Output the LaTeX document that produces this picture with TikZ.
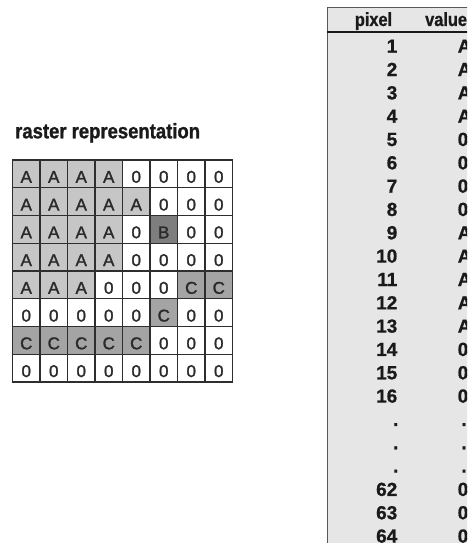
\documentclass[tikz,border=0pt]{standalone}
\usepackage{fontspec}
\setmainfont{Liberation Sans}[BoldFont={Liberation Sans Bold}]
\newfontfamily\titlefont{Liberation Sans Bold}[FakeStretch=0.88, FakeBold=1.2]
\newfontfamily\hdrfont{Liberation Sans Bold}[FakeStretch=0.86, FakeBold=0.8]
\newfontfamily\numfont{Liberation Sans Bold}[FakeBold=0.8]
\newfontfamily\cellfont{Liberation Sans}[FakeBold=1.6]
\definecolor{cellA}{HTML}{C6C6C6}
\definecolor{cellB}{HTML}{7E7E7E}
\definecolor{cellC}{HTML}{A4A4A4}
\definecolor{cell0}{HTML}{FFFFFF}
\definecolor{tablebg}{HTML}{E6E6E6}
\definecolor{ink}{HTML}{1A1A1A}
\definecolor{gridink}{HTML}{2E2E2E}
\definecolor{cellink}{HTML}{2A2A2A}
\begin{document}
\begin{tikzpicture}[x=1pt,y=-1pt,
  title/.style={inner sep=0pt, anchor=base west, text=ink, font=\titlefont\fontsize{21}{21}\selectfont},
  hdr/.style={inner sep=0pt, text=ink, font=\hdrfont\fontsize{19}{19}\selectfont},
  num/.style={inner sep=0pt, anchor=base east, text=ink, font=\numfont\fontsize{19}{19}\selectfont},
  val/.style={inner sep=0pt, anchor=base west, text=ink, font=\numfont\fontsize{19}{19}\selectfont},
  dotmark/.style={inner sep=0pt, anchor=base, text=ink, font=\numfont\fontsize{19}{19}\selectfont},
  celltext/.style={inner sep=0pt, anchor=base, text=cellink, font=\cellfont\fontsize{17}{17}\selectfont},
  gridline/.style={draw=gridink, line width=1.3pt},
  gridframe/.style={draw=gridink, line width=1.8pt},
  tableline/.style={draw=gridink!80, line width=1pt},
  headline/.style={draw=ink, line width=1.6pt}
]
\useasboundingbox (0,0) rectangle (467,543);
\clip (0,0) rectangle (467,543);

% title
\node[title] (title) at (15,138.3) {raster representation};

% raster grid
\foreach \rowvals [count=\r] in {{A,A,A,A,0,0,0,0},{A,A,A,A,A,0,0,0},{A,A,A,A,0,B,0,0},{A,A,A,A,0,0,0,0},{A,A,A,0,0,0,C,C},{0,0,0,0,0,C,0,0},{C,C,C,C,C,0,0,0},{0,0,0,0,0,0,0,0}}{
  \foreach \v [count=\c] in \rowvals {
    \fill[fill=cell\v] ({12.5+27.5*(\c-1)},{160+27.75*(\r-1)}) rectangle ++(27.5,27.75);
    \node[celltext] (g\r-\c) at ({26.25+27.5*(\c-1)},{182.75+27.75*(\r-1)}) {\v};
  }
}
\foreach \i in {1,...,7} {
  \draw[gridline] ({12.5+27.5*\i},160) -- ++(0,222);
  \draw[gridline] (12.5,{160+27.75*\i}) -- ++(220,0);
}
\draw[gridframe] (12.5,160) rectangle (232.5,382);

% table
\fill[tablebg] (327,8) rectangle (470,546);
\draw[tableline] (470,8) -- (327,8) -- (327,546);
\draw[headline] (327,32) -- (470,32);
\node[hdr, anchor=base] (hpixel) at (373.5,26) {pixel};
\node[hdr, anchor=base west] (hvalue) at (425,26) {value};

\foreach \n/\w [count=\k] in {1/A,2/A,3/A,4/A,5/0,6/0,7/0,8/0,9/A,10/A,11/A,12/A,13/A,14/0,15/0,16/0}{
  \node[num] (p\n) at (397.5,{52.7+23.33*(\k-1)}) {\n};
  \node[val] (v\n) at (457.5,{52.7+23.33*(\k-1)}) {\w};
}
\foreach \k in {17,18,19}{
  \node[dotmark] (pd\k) at (395.7,{52.7+23.33*(\k-1)}) {.};
  \node[dotmark] (vd\k) at (464,{52.7+23.33*(\k-1)}) {.};
}
\foreach \n [count=\k from 20] in {62,63,64}{
  \node[num] (p\n) at (397.5,{52.7+23.33*(\k-1)}) {\n};
  \node[val] (v\n) at (457.5,{52.7+23.33*(\k-1)}) {0};
}
\end{tikzpicture}
\end{document}
